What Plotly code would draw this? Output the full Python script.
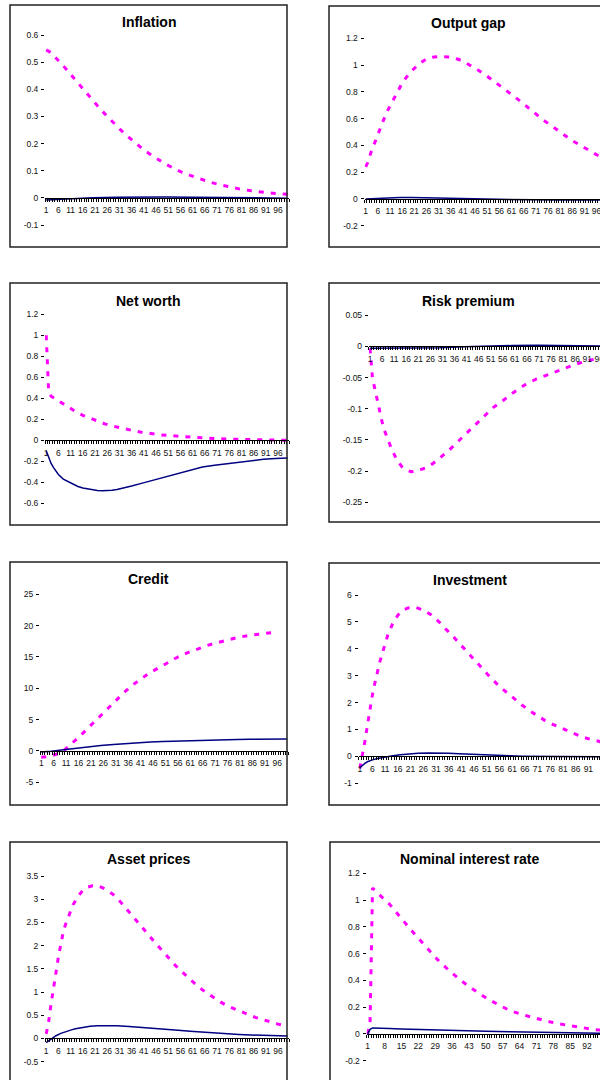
import plotly.graph_objects as go

W, H = 600, 1080

# ---------------- data ----------------
titles = ["Inflation", "Output gap", "Net worth", "Risk premium",
          "Credit", "Investment", "Asset prices", "Nominal interest rate"]

# x tick labels (periods)
xticks_5 = [1, 6, 11, 16, 21, 26, 31, 36, 41, 46, 51, 56, 61, 66, 71, 76, 81, 86, 91, 96]
xticks_7 = [1, 8, 15, 22, 29, 36, 43, 50, 57, 64, 71, 78, 85, 92, 99]

# y tick labels
infl_yticks = [-0.1, 0, 0.1, 0.2, 0.3, 0.4, 0.5, 0.6]
gap_yticks = [-0.2, 0, 0.2, 0.4, 0.6, 0.8, 1, 1.2]
nw_yticks = [-0.6, -0.4, -0.2, 0, 0.2, 0.4, 0.6, 0.8, 1, 1.2]
rp_yticks = [-0.25, -0.2, -0.15, -0.1, -0.05, 0, 0.05]
cred_yticks = [-5, 0, 5, 10, 15, 20, 25]
inv_yticks = [-1, 0, 1, 2, 3, 4, 5, 6]
asset_yticks = [-0.5, 0, 0.5, 1, 1.5, 2, 2.5, 3, 3.5]
nom_yticks = [-0.2, 0, 0.2, 0.4, 0.6, 0.8, 1, 1.2]

# Inflation
infl_dash_t = [1, 3, 5, 8, 11, 14, 17, 20, 23, 26, 29, 32, 35, 38, 41, 44, 47, 50, 53, 56, 60, 64, 68, 72, 76, 80, 85, 90, 95, 100]
infl_dash_v = [0.545, 0.535, 0.515, 0.487, 0.455, 0.423, 0.392, 0.36, 0.329, 0.300, 0.272, 0.246, 0.222, 0.199, 0.177, 0.158, 0.140, 0.124, 0.110, 0.097, 0.083, 0.070, 0.058, 0.049, 0.040, 0.033, 0.026, 0.020, 0.016, 0.013]
infl_solid_t = [1, 5, 10, 15, 20, 30, 40, 50, 60, 70, 80, 90, 100]
infl_solid_v = [-0.008, -0.006, -0.004, -0.002, 0.0, 0.002, 0.003, 0.003, 0.002, 0.001, 0.0, -0.001, -0.001]

# Output gap
gap_dash_t = [1, 2, 3, 4, 5, 6, 7, 8, 10, 12, 14, 16, 18, 20, 23, 26, 29, 32, 35, 38, 41, 44, 47, 50, 53, 56, 59, 62, 65, 68, 71, 74, 77, 80, 83, 86, 89, 92, 95, 98, 100]
gap_dash_v = [0.24, 0.28, 0.34, 0.39, 0.44, 0.49, 0.53, 0.575, 0.66, 0.73, 0.80, 0.865, 0.915, 0.958, 1.01, 1.045, 1.06, 1.065, 1.06, 1.05, 1.03, 1.0, 0.965, 0.93, 0.89, 0.853, 0.81, 0.767, 0.725, 0.68, 0.632, 0.59, 0.552, 0.515, 0.472, 0.435, 0.405, 0.37, 0.34, 0.31, 0.29]
gap_solid_t = [1, 5, 10, 15, 20, 25, 30, 35, 40, 50, 60, 70, 80, 90, 100]
gap_solid_v = [0.0, 0.004, 0.008, 0.010, 0.010, 0.008, 0.005, 0.002, 0.0, -0.003, -0.005, -0.007, -0.008, -0.008, -0.007]

# Net worth
nw_dash_t = [1, 2, 3, 4, 5, 6, 8, 10, 12, 14, 16, 18, 20, 22, 25, 28, 31, 34, 37, 40, 44, 48, 52, 56, 60, 65, 70, 75, 80, 85, 90, 95, 100]
nw_dash_v = [1.0, 0.46, 0.42, 0.405, 0.39, 0.38, 0.35, 0.315, 0.285, 0.26, 0.238, 0.22, 0.2, 0.18, 0.157, 0.137, 0.12, 0.105, 0.09, 0.077, 0.063, 0.052, 0.044, 0.037, 0.03, 0.022, 0.016, 0.012, 0.008, 0.005, 0.003, 0.002, 0.001]
nw_solid_t = [1, 2, 3, 4, 5, 6, 8, 10, 12, 14, 16, 18, 20, 22, 24, 26, 28, 30, 33, 36, 40, 45, 50, 55, 60, 65, 70, 75, 80, 85, 90, 95, 100]
nw_solid_v = [-0.1, -0.17, -0.22, -0.26, -0.295, -0.325, -0.37, -0.395, -0.42, -0.44, -0.455, -0.465, -0.473, -0.478, -0.48, -0.479, -0.475, -0.468, -0.455, -0.435, -0.41, -0.378, -0.345, -0.313, -0.283, -0.255, -0.238, -0.222, -0.207, -0.193, -0.181, -0.174, -0.168]

# Risk premium
rp_dash_t = [1, 2, 3, 4, 5, 6, 7, 8, 10, 12, 14, 16, 18, 20, 22, 24, 27, 30, 33, 36, 40, 44, 48, 52, 56, 60, 65, 70, 75, 80, 85, 90, 95, 100]
rp_dash_v = [-0.003, -0.05, -0.068, -0.086, -0.105, -0.121, -0.135, -0.146, -0.165, -0.181, -0.192, -0.198, -0.201, -0.2, -0.198, -0.195, -0.188, -0.179, -0.169, -0.158, -0.143, -0.127, -0.112, -0.098, -0.087, -0.075, -0.062, -0.052, -0.045, -0.037, -0.03, -0.024, -0.019, -0.015]
rp_solid_t = [1, 10, 20, 30, 40, 50, 60, 70, 80, 90, 100]
rp_solid_v = [-0.003, -0.003, -0.003, -0.002, -0.0005, 0.0008, 0.0015, 0.0018, 0.0015, 0.001, 0.0008]

# Credit
cred_dash_t = [1, 2, 3, 4, 5, 6, 7, 8, 9, 10, 12, 14, 16, 19, 22, 25, 28, 31, 34, 37, 40, 44, 48, 52, 56, 60, 64, 68, 72, 76, 80, 84, 88, 92, 96]
cred_dash_v = [-1.0, -1.0, -0.95, -0.88, -0.8, -0.7, -0.55, -0.4, -0.2, 0.05, 0.7, 1.4, 2.1, 3.3, 4.5, 5.7, 6.9, 8.0, 9.2, 10.3, 11.2, 12.3, 13.2, 14.1, 15.0, 15.7, 16.3, 16.85, 17.3, 17.75, 18.1, 18.4, 18.6, 18.8, 19.0]
cred_solid_t = [1, 5, 10, 15, 20, 25, 30, 35, 40, 45, 50, 55, 60, 65, 70, 75, 80, 85, 90, 95, 100]
cred_solid_v = [-0.15, -0.05, 0.2, 0.45, 0.68, 0.88, 1.05, 1.2, 1.33, 1.43, 1.52, 1.59, 1.65, 1.7, 1.75, 1.79, 1.83, 1.86, 1.89, 1.91, 1.92]

# Investment
inv_dash_t = [1, 2, 3, 4, 5, 6, 7, 8, 9, 10, 11, 12, 14, 16, 18, 20, 23, 26, 29, 32, 35, 38, 41, 44, 47, 50, 53, 56, 59, 62, 65, 68, 71, 74, 77, 80, 84, 88, 92, 96, 100]
inv_dash_v = [-0.45, 0.0, 0.55, 1.15, 1.75, 2.3, 2.75, 3.18, 3.55, 3.87, 4.2, 4.5, 4.95, 5.25, 5.43, 5.52, 5.54, 5.44, 5.27, 5.02, 4.72, 4.44, 4.12, 3.8, 3.48, 3.18, 2.88, 2.6, 2.36, 2.12, 1.9, 1.69, 1.5, 1.33, 1.19, 1.06, 0.91, 0.74, 0.63, 0.53, 0.45]
inv_solid_t = [1, 2, 3, 4, 5, 6, 8, 10, 12, 14, 17, 20, 24, 28, 32, 36, 40, 45, 50, 55, 60, 65, 70, 80, 90, 100]
inv_solid_v = [-0.42, -0.33, -0.26, -0.2, -0.16, -0.13, -0.08, -0.04, -0.01, 0.02, 0.06, 0.09, 0.12, 0.13, 0.13, 0.12, 0.1, 0.075, 0.05, 0.035, 0.02, 0.01, 0.0, -0.015, -0.02, -0.02]

# Asset prices
asset_dash_t = [1, 2, 3, 4, 5, 6, 7, 8, 9, 10, 12, 14, 16, 18, 20, 22, 24, 26, 28, 30, 33, 36, 39, 42, 45, 48, 51, 54, 57, 60, 63, 66, 69, 72, 75, 78, 81, 84, 87, 90, 93, 96, 100]
asset_dash_v = [0.1, 0.37, 0.75, 1.05, 1.42, 1.76, 2.05, 2.3, 2.47, 2.62, 2.88, 3.06, 3.19, 3.26, 3.29, 3.29, 3.25, 3.19, 3.12, 3.03, 2.85, 2.67, 2.48, 2.29, 2.1, 1.92, 1.74, 1.57, 1.42, 1.27, 1.13, 1.01, 0.9, 0.8, 0.71, 0.64, 0.57, 0.51, 0.45, 0.4, 0.35, 0.31, 0.27]
asset_solid_t = [1, 2, 3, 4, 5, 7, 9, 11, 13, 16, 19, 22, 26, 30, 35, 40, 45, 50, 55, 60, 65, 70, 75, 80, 85, 90, 95, 100]
asset_solid_v = [-0.09, -0.05, -0.01, 0.03, 0.06, 0.11, 0.15, 0.18, 0.21, 0.245, 0.265, 0.275, 0.28, 0.275, 0.26, 0.243, 0.222, 0.2, 0.178, 0.158, 0.138, 0.12, 0.103, 0.088, 0.075, 0.065, 0.058, 0.052]

# Nominal interest rate
nom_dash_t = [1, 2, 3, 4, 5, 7, 10, 13, 16, 20, 25, 30, 35, 40, 45, 50, 55, 60, 65, 70, 75, 80, 85, 90, 95, 100]
nom_dash_v = [0.0, 0.1, 1.09, 1.075, 1.055, 1.02, 0.97, 0.905, 0.84, 0.755, 0.655, 0.555, 0.47, 0.395, 0.33, 0.27, 0.22, 0.175, 0.145, 0.12, 0.097, 0.076, 0.06, 0.047, 0.033, 0.025]
nom_solid_t = [1, 2, 3, 4, 6, 10, 15, 20, 30, 40, 50, 60, 70, 80, 90, 100]
nom_solid_v = [0.0, 0.035, 0.045, 0.045, 0.043, 0.04, 0.037, 0.034, 0.028, 0.024, 0.02, 0.016, 0.012, 0.009, 0.006, 0.004]

panels = [
    (titles[0], infl_dash_t, infl_dash_v, infl_solid_t, infl_solid_v, infl_yticks, xticks_5),
    (titles[1], gap_dash_t, gap_dash_v, gap_solid_t, gap_solid_v, gap_yticks, xticks_5),
    (titles[2], nw_dash_t, nw_dash_v, nw_solid_t, nw_solid_v, nw_yticks, xticks_5),
    (titles[3], rp_dash_t, rp_dash_v, rp_solid_t, rp_solid_v, rp_yticks, xticks_5),
    (titles[4], cred_dash_t, cred_dash_v, cred_solid_t, cred_solid_v, cred_yticks, xticks_5),
    (titles[5], inv_dash_t, inv_dash_v, inv_solid_t, inv_solid_v, inv_yticks, xticks_5),
    (titles[6], asset_dash_t, asset_dash_v, asset_solid_t, asset_solid_v, asset_yticks, xticks_5),
    (titles[7], nom_dash_t, nom_dash_v, nom_solid_t, nom_solid_v, nom_yticks, xticks_7),
]

# ---------------- layout geometry (pixels) ----------------
# plot-area left, slot width per period, top (y max), bottom (y min)
geom = [
    (45.0, 2.44, 35.0, 225.0),
    (364.5, 2.43, 38.3, 225.7),
    (45.0, 2.44, 314.3, 503.3),
    (368.8, 2.414, 315.3, 502.3),
    (40.0, 2.484, 594.3, 782.3),
    (358.5, 2.54, 595.0, 783.3),
    (45.0, 2.44, 876.0, 1061.7),
    (366.5, 2.41, 873.3, 1060.7),
]
# boxes: x0, y0, x1, y1
boxes = [
    (10, 5, 287, 247), (329, 6, 608, 247),
    (10, 283, 287, 525), (329, 283, 608, 522),
    (10, 562, 287, 805), (329, 563, 608, 805),
    (10, 842, 287, 1100), (330, 842, 608, 1100),
]
title_pos = [
    (148.7, 21.7), (468.5, 23.3),
    (148.7, 300.7), (468.5, 301.0),
    (148.7, 579.0), (469.5, 580.0),
    (148.7, 859.0), (469.0, 859.0),
]

FONT = "Liberation Sans, Arial, Helvetica, sans-serif"
MAGENTA = "#FF00FF"
NAVY = "#000080"

fig = go.Figure()
layout = dict(
    width=W, height=H,
    margin=dict(l=0, r=0, t=0, b=0, pad=0, autoexpand=False),
    paper_bgcolor="white", plot_bgcolor="white",
    showlegend=False,
    font=dict(family=FONT, size=8, color="#000"),
    shapes=[], annotations=[],
)

def fmt(v):
    return f"{v:g}"

for i, (title, ta, va, tb, vb, yt, xt) in enumerate(panels):
    n = i + 1
    xn = "x" if n == 1 else f"x{n}"
    yn = "y" if n == 1 else f"y{n}"
    xk = "xaxis" if n == 1 else f"xaxis{n}"
    yk = "yaxis" if n == 1 else f"yaxis{n}"
    L, slot, T, B = geom[i]
    ymin, ymax = yt[0], yt[-1]
    R = L + 100 * slot
    if R <= W:
        xr = [0.5, 100.5]
        Rd = R
    else:
        xr = [0.5, 0.5 + (W - L) / slot]
        Rd = W
    zero_px = B - (0 - ymin) / (ymax - ymin) * (B - T)

    layout[xk] = dict(
        domain=[L / W, Rd / W], range=xr, anchor="free", position=1 - zero_px / H,
        showline=True, linecolor="#000", linewidth=1,
        ticks="", tickvals=xt, ticktext=[str(v) for v in xt],
        tickfont=dict(family=FONT, size=8.5, color="#111"),
        ticklabelstandoff=4, ticklabeloverflow="allow",
        showgrid=False, zeroline=False, fixedrange=True,
        minor=dict(ticks="outside", tick0=0.5, dtick=1, ticklen=3,
                   tickcolor="#000", tickwidth=1, showgrid=False),
    )
    layout[yk] = dict(
        domain=[1 - B / H, 1 - T / H], range=[ymin, ymax], anchor=xn,
        showline=False, ticks="outside", ticklen=3, tickcolor="#000", tickwidth=1,
        tickvals=yt, ticktext=[fmt(v) for v in yt],
        tickfont=dict(family=FONT, size=8.5, color="#111"),
        ticklabelstandoff=1,
        showgrid=False, zeroline=False, fixedrange=True,
    )

    fig.add_trace(go.Scatter(x=ta, y=va, mode="lines", xaxis=xn, yaxis=yn,
                             line=dict(color=MAGENTA, width=3, dash="5px,7px"),
                             hoverinfo="skip"))
    fig.add_trace(go.Scatter(x=tb, y=vb, mode="lines", xaxis=xn, yaxis=yn,
                             line=dict(color=NAVY, width=1.5),
                             hoverinfo="skip"))

    x0, y0, x1, y1 = boxes[i]
    layout["shapes"].append(dict(type="rect", xref="paper", yref="paper",
                                 x0=x0 / W, x1=x1 / W, y0=1 - y1 / H, y1=1 - y0 / H,
                                 line=dict(color="#222", width=1.5), layer="above"))
    tx, ty = title_pos[i]
    layout["annotations"].append(dict(text=title, xref="paper", yref="paper",
                                      x=tx / W, y=1 - ty / H, xanchor="center", yanchor="middle",
                                      showarrow=False,
                                      font=dict(family=FONT, size=14, color="#000", weight="bold")))

fig.update_layout(**layout)
fig.write_html("out.html", config={"displayModeBar": False},
               post_script="document.body.style.margin='0';document.body.style.overflow='hidden';")
